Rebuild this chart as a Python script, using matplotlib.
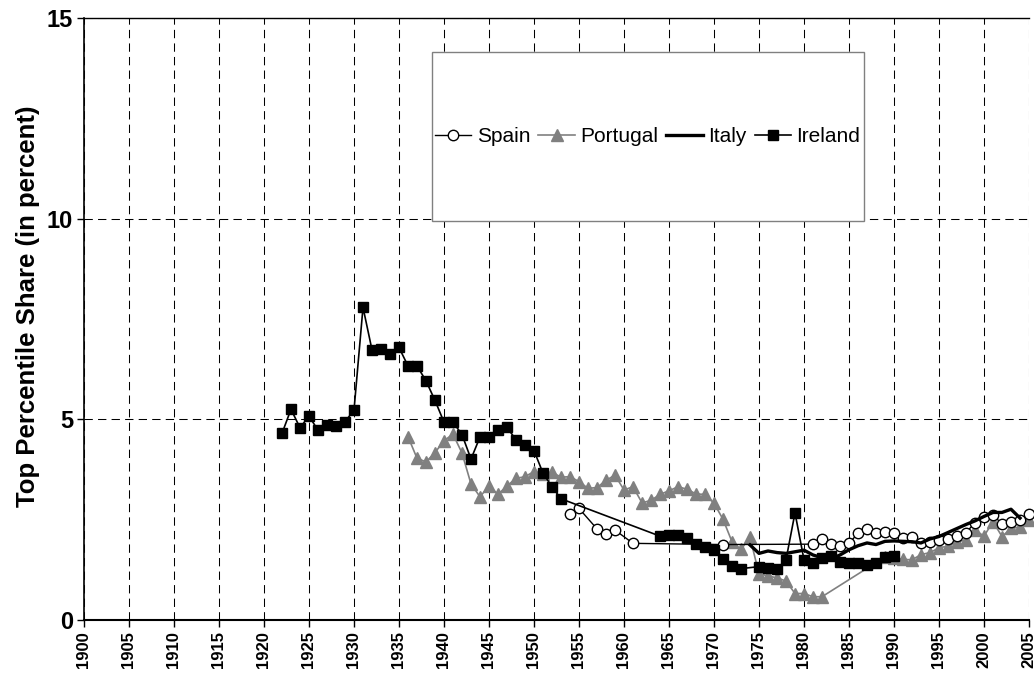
import numpy as np
import matplotlib
matplotlib.use("Agg")
from matplotlib import pyplot as plt
from matplotlib.patches import Rectangle

plt.rcParams['font.family'] = ['Liberation Sans', 'DejaVu Sans']

# Spain
spain_years = [1954, 1955, 1957, 1958, 1959, 1961, 1971, 1981, 1982, 1983, 1984,
               1985, 1986, 1987, 1988, 1989, 1990, 1991, 1992, 1993, 1994, 1995,
               1996, 1997, 1998, 1999, 2000, 2001, 2002, 2003, 2004, 2005]
spain_vals = [2.64, 2.78, 2.27, 2.15, 2.24, 1.91, 1.88, 1.89, 2.02, 1.90, 1.84,
              1.91, 2.16, 2.27, 2.18, 2.20, 2.16, 2.05, 2.08, 1.91, 1.95, 1.99,
              2.01, 2.09, 2.18, 2.42, 2.57, 2.62, 2.39, 2.45, 2.49, 2.64]

# Portugal
portugal_years = list(range(1936, 1983)) + list(range(1989, 2006))
portugal_vals = [4.57, 4.03, 3.94, 4.17, 4.47, 4.63, 4.16, 3.39, 3.07, 3.34,
                 3.13, 3.34, 3.53, 3.57, 3.70, 3.63, 3.68, 3.56, 3.57, 3.45,
                 3.28, 3.30, 3.48, 3.61, 3.24, 3.32, 2.92, 2.98, 3.13, 3.22,
                 3.32, 3.26, 3.14, 3.13, 2.91, 2.51, 1.95, 1.76, 2.06, 1.15,
                 1.10, 1.05, 0.97, 0.66, 0.66, 0.58, 0.58,
                 1.57, 1.55, 1.51, 1.50, 1.63, 1.68, 1.80, 1.84, 1.95, 1.99,
                 2.24, 2.09, 2.45, 2.08, 2.28, 2.32, 2.49]

# Italy
italy_years = list(range(1974, 2005))
italy_vals = [1.87, 1.66, 1.72, 1.68, 1.66, 1.70, 1.74, 1.62, 1.55, 1.52,
              1.62, 1.75, 1.85, 1.92, 1.88, 1.96, 1.97, 1.96, 1.95, 1.92,
              2.02, 2.08, 2.18, 2.28, 2.38, 2.47, 2.58, 2.68, 2.68, 2.76, 2.54]

# Ireland
ireland_years = (list(range(1922, 1954)) + list(range(1964, 1974))
                 + list(range(1975, 1991)))
ireland_vals = [4.65, 5.25, 4.79, 5.08, 4.73, 4.85, 4.83, 4.94, 5.23, 7.79,
                6.73, 6.75, 6.63, 6.79, 6.33, 6.33, 5.96, 5.47, 4.93, 4.93,
                4.62, 4.01, 4.56, 4.56, 4.73, 4.80, 4.49, 4.36, 4.22, 3.66,
                3.32, 3.02,
                2.09, 2.12, 2.12, 2.04, 1.89, 1.82, 1.74, 1.51, 1.35, 1.28,
                1.33, 1.30, 1.27, 1.50, 2.67, 1.50, 1.41, 1.54, 1.60, 1.45,
                1.41, 1.41, 1.37, 1.41, 1.56, 1.59]

x_ticks = np.arange(1900, 2006, 5)
y_ticks = [0, 5, 10, 15]

fig = plt.figure(figsize=(10.34, 6.88), dpi=100)
ax = fig.add_axes([84 / 1034, 68 / 688, 945 / 1034, 602 / 688])

ax.plot(spain_years, spain_vals, color='black', lw=1.0, marker='o', ms=7.5,
        mfc='white', mec='black', mew=1.0, label='Spain', clip_on=False, zorder=4)
ax.plot(portugal_years, portugal_vals, color='#808080', lw=1.2, marker='^', ms=8.5,
        mfc='#808080', mec='#808080', label='Portugal', clip_on=False, zorder=3)
ax.plot(italy_years, italy_vals, color='black', lw=2.4, label='Italy',
        clip_on=False, zorder=5)
ax.plot(ireland_years, ireland_vals, color='black', lw=1.2, marker='s', ms=7.5,
        mfc='black', mec='black', label='Ireland', clip_on=False, zorder=6)

ax.set_xlim(1900, 2005)
ax.set_ylim(0, 15)
ax.set_xticks(x_ticks)
ax.set_xticklabels([str(t) for t in x_ticks], rotation=90, fontsize=12,
                   fontweight='bold')
ax.set_yticks(y_ticks)
ax.set_yticklabels([str(t) for t in y_ticks], fontsize=17, fontweight='bold')
ax.tick_params(axis='both', direction='out', length=5, width=1, color='black')
ax.tick_params(axis='x', pad=3)
ax.tick_params(axis='y', pad=3)

ax.grid(True, color='black', lw=0.75, linestyle=(0, (8, 5)))
ax.set_axisbelow(True)

ax.spines['right'].set_visible(False)
ax.spines['top'].set_linewidth(1.0)
ax.spines['left'].set_linewidth(1.2)
ax.spines['bottom'].set_linewidth(1.5)

ax.set_ylabel('Top Percentile Share (in percent)', fontsize=18.5,
              fontweight='bold')
ax.yaxis.set_label_coords(-0.047, 0.522)

# legend box
box = Rectangle((0.368, 0.663), 0.457, 0.2805, transform=ax.transAxes,
                facecolor='white', edgecolor='#808080', lw=1.0, zorder=7)
ax.add_patch(box)
leg = ax.legend(loc='center', bbox_to_anchor=(0.5965, 0.8033), ncol=4,
                frameon=False, fontsize=15, handlelength=1.75,
                handletextpad=0.25, columnspacing=0.4, borderpad=0)
leg.set_zorder(8)

fig.savefig('out.png', dpi=100)
